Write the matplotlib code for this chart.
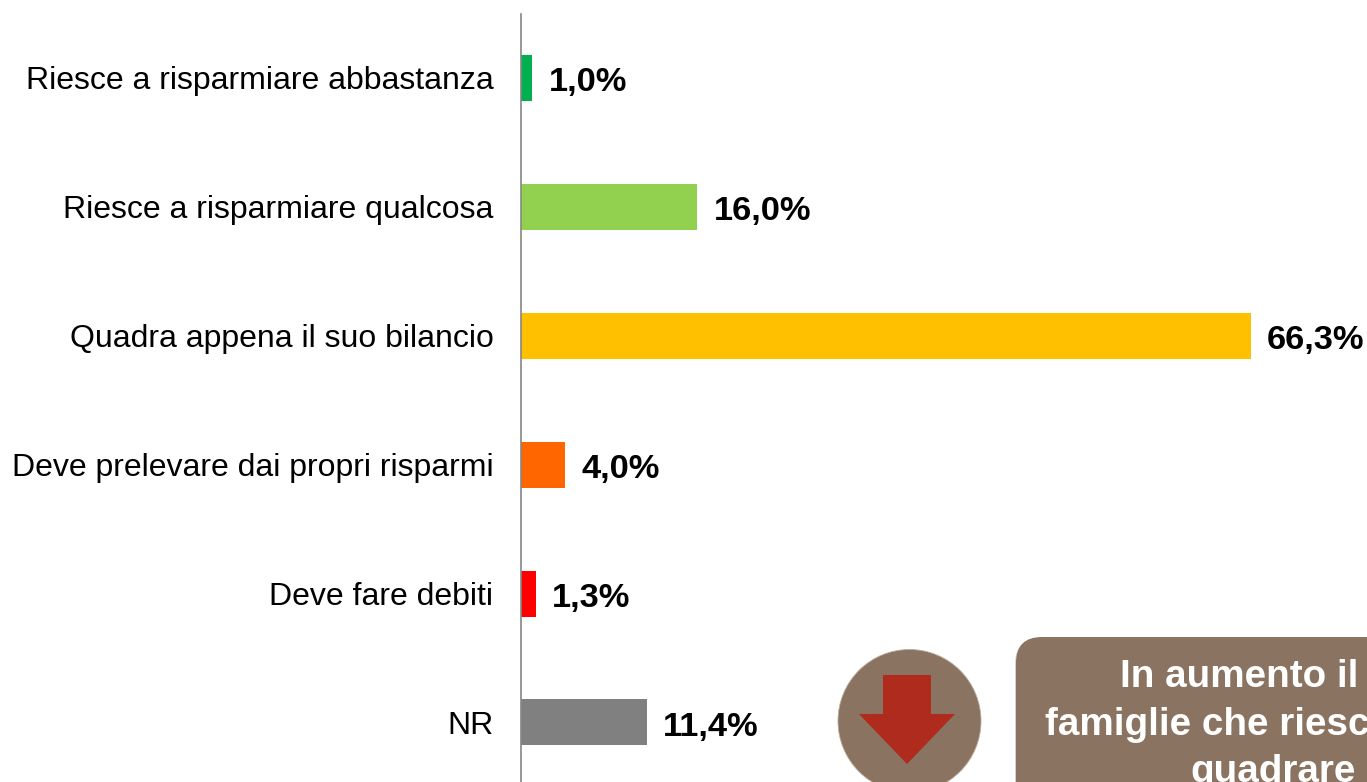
from __future__ import annotations

import matplotlib

matplotlib.use("Agg")
import matplotlib.pyplot as plt
from matplotlib.patches import Circle, FancyBboxPatch, Polygon

plt.rcParams["font.family"] = ["Liberation Sans", "DejaVu Sans"]

categories = [
    "Riesce a risparmiare abbastanza",
    "Riesce a risparmiare qualcosa",
    "Quadra appena il suo bilancio",
    "Deve prelevare dai propri risparmi",
    "Deve fare debiti",
    "NR",
]
values = [1.0, 16.0, 66.3, 4.0, 1.3, 11.4]
value_labels = ["1,0%", "16,0%", "66,3%", "4,0%", "1,3%", "11,4%"]
bar_colors = ["#00B050", "#92D050", "#FFC000", "#FF6600", "#FF0000", "#808080"]
callout_lines = ["In aumento il", "famiglie che riescono", "quadrare"]

W, H = 1367, 782
fig = plt.figure(figsize=(W / 100, H / 100), dpi=100, facecolor="white")

# axes spans the bar area, y runs in category slots
x0 = 521.2
px_per_unit = 11.0
ax = fig.add_axes([x0 / W, 0, (W - x0) / W, (H - 14) / H])
ax.set_xlim(0, (W - x0) / px_per_unit)
slot = 128.88
ax.set_ylim((782 - 78) / slot, (14 - 78) / slot)
y = list(range(len(categories)))
ax.barh(y, values, height=46 / slot, color=bar_colors, linewidth=0)

for side in ("top", "right", "bottom"):
    ax.spines[side].set_visible(False)
ax.spines["left"].set_color("#868686")
ax.spines["left"].set_linewidth(1.2)
ax.set_xticks([])
ax.set_yticks(y)
ax.set_yticklabels(categories, fontsize=23.0, color="black")
ax.tick_params(axis="y", length=0, pad=20)

for i, (v, lab) in enumerate(zip(values, value_labels)):
    ax.annotate(
        lab, (v, i), xytext=(12, -3.5), textcoords="offset points",
        va="center", ha="left", fontsize=24.8, fontweight="bold", clip_on=False,
    )

# overlay in pixel coordinates for the callout
ov = fig.add_axes([0, 0, 1, 1], facecolor="none")
ov.set_xlim(0, W)
ov.set_ylim(H, 0)
ov.axis("off")
ov.add_patch(Circle((909.5, 721), 71.5, facecolor="#8A7360", edgecolor="#B9AD9F", linewidth=0.6))
ov.add_patch(Polygon(
    [(883, 675), (931, 675), (931, 714), (955, 714), (907, 764), (859, 714), (883, 714)],
    closed=True, facecolor="#AE2B1E", edgecolor="none",
))
# faint shadow, then the box itself
ov.add_patch(FancyBboxPatch(
    (1015, 638), 640, 300, boxstyle="round,pad=0,rounding_size=26",
    facecolor="#000000", alpha=0.18, edgecolor="none",
))
ov.add_patch(FancyBboxPatch(
    (1016, 637), 640, 300, boxstyle="round,pad=0,rounding_size=26",
    facecolor="#8A7360", edgecolor="none",
))
line_x = [1120, 1045, 1190]
line_y = [677, 725, 772]
for lx, ly, line in zip(line_x, line_y, callout_lines):
    ov.text(lx, ly, line, ha="left", va="center", color="white",
            fontsize=27.8, fontweight="bold", clip_on=True)

fig.savefig("out.png", dpi=100)
